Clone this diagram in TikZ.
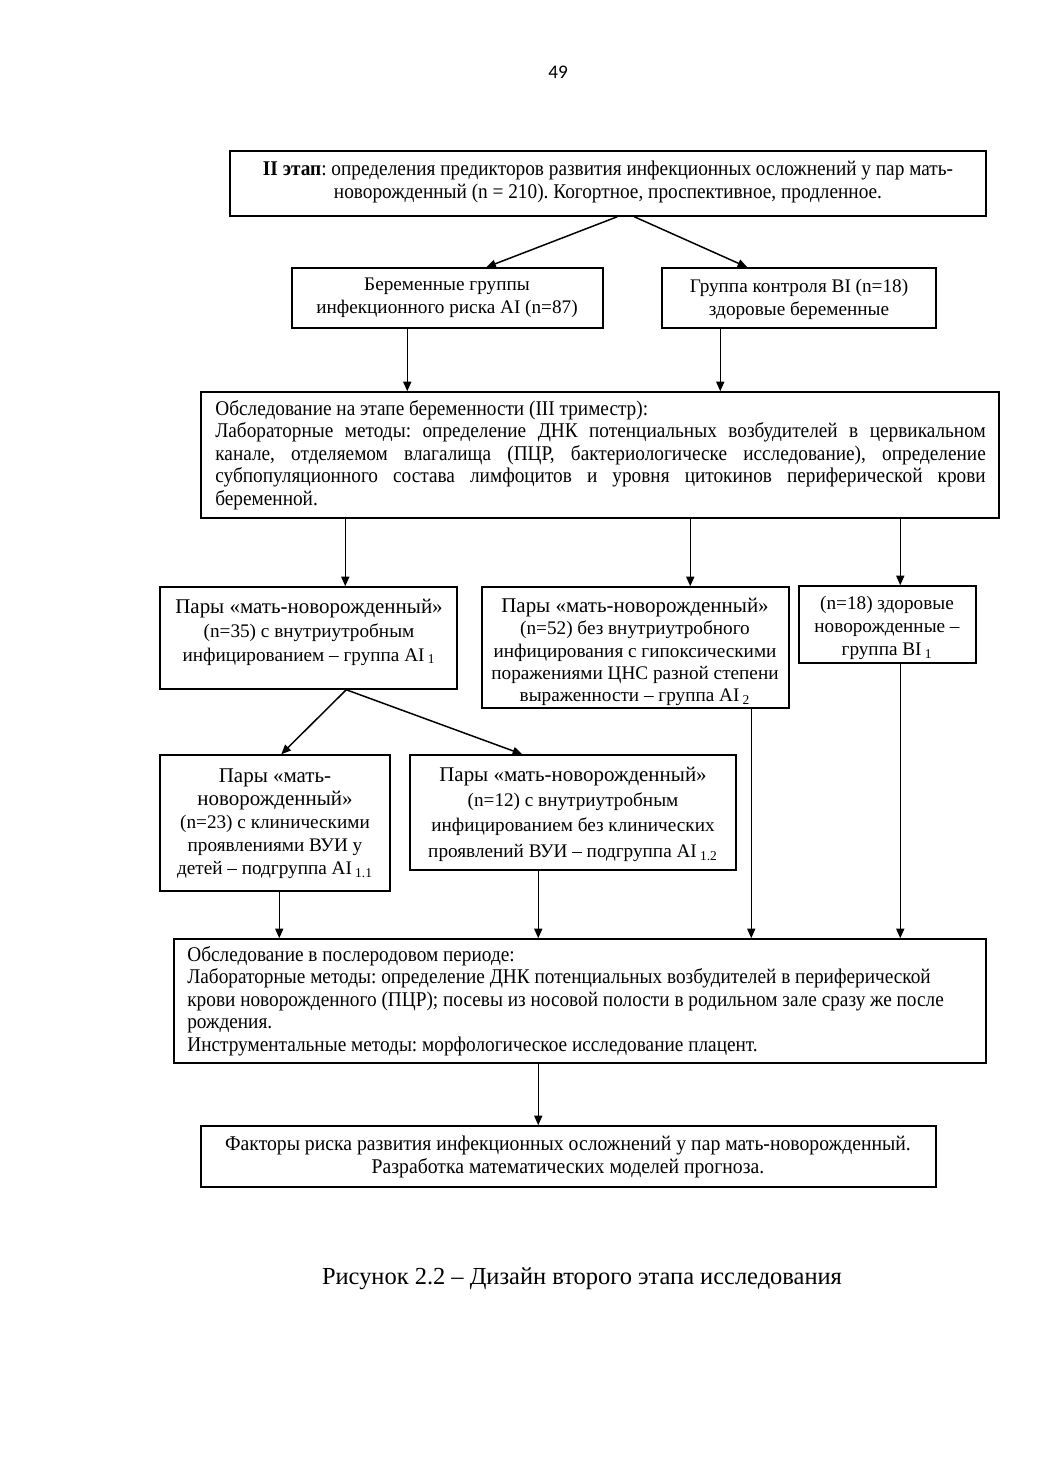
\documentclass[tikz,border=0pt]{standalone}
\usepackage{fontspec}
\setmainfont{Liberation Serif}
\newfontfamily\cond[FakeStretch=0.92]{Liberation Serif}
\newfontfamily\condf[FakeStretch=0.94]{Liberation Serif}
\newfontfamily\numfont{Carlito}
\usetikzlibrary{arrows.meta,fit,calc}
\newcommand{\hd}[1]{{\fontsize{12}{13.2}\selectfont #1}}
\frenchspacing
\begin{document}
\begin{tikzpicture}[x=0.5724pt,y=-0.5724pt,
 box/.style={draw, line width=0.85pt, inner sep=0pt},
 txt/.style={inner sep=0pt, align=center, font=\fontsize{11}{13.2}\selectfont},
 ctxt/.style={inner sep=0pt, align=center, font=\cond\fontsize{12}{13.2}\selectfont},
 arr/.style={line width=0.85pt, -{Triangle[length=5.5pt,width=4.6pt]}}]
\useasboundingbox (0,0) rectangle (1040,1471);
\fill[white] (0,0) rectangle (1040,1471);

\node[inner sep=0pt, font=\numfont\fontsize{11}{13}\selectfont] (pg) at (558,72) {49};

% boxes
\node[box, fit={(230,151)(986,216)}] (top) {};
\node[box, fit={(292,268)(603,328)}] (ai) {};
\node[box, fit={(662,268)(936,328)}] (bi) {};
\node[box, fit={(201,392)(999,518)}] (big) {};
\node[box, fit={(160,587)(457,689)}] (ai1) {};
\node[box, fit={(482,587)(789,708)}] (ai2) {};
\node[box, fit={(799,586)(976,663)}] (bi1) {};
\node[box, fit={(160,755)(390,891)}] (ai11) {};
\node[box, fit={(410,755)(736,870)}] (ai12) {};
\node[box, fit={(174,939)(986,1063)}] (post) {};
\node[box, fit={(201,1126)(936,1187)}] (fin) {};

% texts
\node[ctxt] (ttop) at (608,182) {\textbf{II этап}: определения предикторов развития инфекционных осложнений у пар мать-\\новорожденный (n = 210). Когортное, проспективное, продленное.};
\node[txt] (tai) at (447,298) {Беременные группы\\инфекционного риска AI (n=87)};
\node[txt] (tbi) at (799,299) {Группа контроля BI (n=18)\\здоровые беременные};
\node[ctxt, align=justify, text width=441pt, anchor=north west, font=\cond\fontsize{12}{12.9}\selectfont] (tbig) at (215,400)
 {\hyphenpenalty=10000\relax Обследование на этапе беременности (III триместр):\\
 Лабораторные методы: определение ДНК потенциальных возбудителей в цервикальном\linebreak
 канале, отделяемом влагалища (ПЦР, бактериологическе исследование), определение\linebreak
 субпопуляционного состава лимфоцитов и уровня цитокинов периферической крови\linebreak
 беременной.};
\node[txt] (tai1) at (309,632) {\hd{Пары «мать-новорожденный»}\\[1pt](n=35) с внутриутробным\\инфицированием – группа AI\,\textsubscript{1}};
\node[txt, font=\fontsize{11}{12.7}\selectfont] (tai2) at (635,652) {\hd{Пары «мать-новорожденный»}\\(n=52) без внутриутробного\\инфицирования с гипоксическими\\поражениями ЦНС разной степени\\выраженности – группа AI\,\textsubscript{2}};
\node[txt] (tbi1) at (887,628) {(n=18) здоровые\\новорожденные –\\группа BI\,\textsubscript{1}};
\node[txt] (tai11) at (275,824) {\hd{Пары «мать-}\\\hd{новорожденный»}\\(n=23) с клиническими\\проявлениями ВУИ у\\детей – подгруппа AI\,\textsubscript{1.1}};
\node[txt] (tai12) at (573,814) {\hd{Пары «мать-новорожденный»}\\[1.5pt](n=12) с внутриутробным\\[1pt]инфицированием без клинических\\[1.5pt]проявлений ВУИ – подгруппа AI\,\textsubscript{1.2}};
\node[ctxt, align=left, anchor=north west, font=\cond\fontsize{12}{12.9}\selectfont] (tpost) at (187,946)
 {Обследование в послеродовом периоде:\\
 Лабораторные методы: определение ДНК потенциальных возбудителей в периферической\\
 крови новорожденного (ПЦР); посевы из носовой полости в родильном зале сразу же после\\
 рождения.\\
 Инструментальные методы: морфологическое исследование плацент.};
\node[ctxt, font=\condf\fontsize{12}{13.6}\selectfont] (tfin) at (568,1157) {Факторы риска развития инфекционных осложнений у пар мать-новорожденный.\\Разработка математических моделей прогноза.};

\node[inner sep=0pt, font=\fontsize{14}{16}\selectfont] (cap) at (582,1279) {Рисунок 2.2 – Дизайн второго этапа исследования};

% arrows
\draw[arr] ($(top.south west)+(388,0)$) -- ($(ai.north west)+(195,0)$);
\draw[arr] ($(top.south west)+(405,0)$) -- ($(bi.north west)+(86,0)$);
\draw[arr] ($(ai.south west)+(116,0)$) -- ($(big.north west)+(207,0)$);
\draw[arr] ($(bi.south west)+(59,0)$) -- ($(big.north west)+(520,0)$);
\draw[arr] ($(big.south west)+(145,0)$) -- ($(ai1.north west)+(186,0)$);
\draw[arr] ($(big.south west)+(490,0)$) -- ($(ai2.north west)+(209,0)$);
\draw[arr] ($(big.south west)+(700,0)$) -- ($(bi1.north west)+(102,0)$);
\draw[arr] ($(ai1.south west)+(187,0)$) -- ($(ai11.north west)+(122,0)$);
\draw[arr] ($(ai1.south west)+(187,0)$) -- ($(ai12.north west)+(113,0)$);
\draw[arr] ($(ai11.south west)+(120,0)$) -- ($(post.north west)+(106,0)$);
\draw[arr] ($(ai12.south west)+(129,0)$) -- ($(post.north west)+(365,0)$);
\draw[arr] ($(ai2.south west)+(270,0)$) -- ($(post.north west)+(578,0)$);
\draw[arr] ($(bi1.south west)+(102,0)$) -- ($(post.north west)+(727,0)$);
\draw[arr] ($(post.south west)+(365,0)$) -- ($(fin.north west)+(338,0)$);
\end{tikzpicture}
\end{document}
